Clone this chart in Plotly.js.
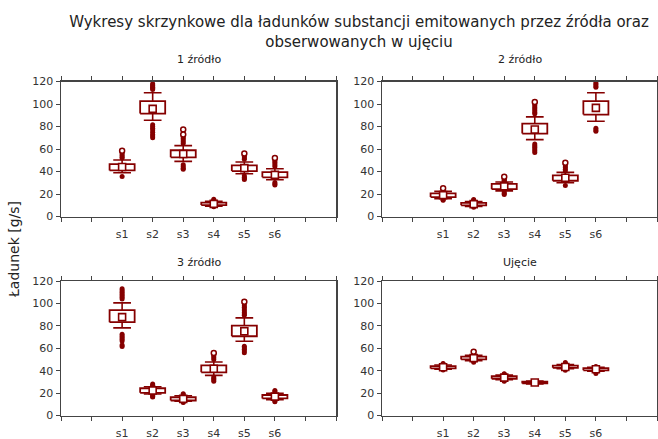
<!DOCTYPE html>
<html><head><meta charset="utf-8">
<script src="https://cdn.plot.ly/plotly-3.0.1.min.js"></script>
<style>html,body{margin:0;padding:0;background:#fff}</style>
</head><body><div id="chart" style="width:658px;height:439px"></div>
<script>
const categories = ['s1','s2','s3','s4','s5','s6'];
const panelTitles = ['1 źródło','2 źródło','3 źródło','Ujęcie'];

// Panel 1: 1 źródło
const p1Q1  = [41.0, 91.5, 52.6, 10.2, 40.4, 34.8];
const p1Med = [44.0, 95.7, 55.6, 11.2, 43.0, 37.0];
const p1Q3  = [46.6, 102.6, 58.9, 12.3, 45.5, 39.5];
const p1Lo  = [38.9, 85.6, 49.0, 9.2, 38.0, 32.7];
const p1Hi  = [50.2, 110.0, 63.0, 13.5, 48.4, 42.5];
const p1Out = [[57.3,56,54.5,53,52,35.5],[118,117,116,115,114,113,81.5,80,78.5,77,75,73,71.5,70],[71,69.5,68,66.5,65,46,44.5,43,42],[14.5,15.3,8.6],[54.5,53.3,52,51,36.2,35,33.8,32.8],[50.5,49,47.5,46,44.5,30.3,29,28]];
const p1Ext = [[58.5],[],[77.3,72.8],[],[56],[52]];

// Panel 2: 2 źródło
const p2Q1  = [17.3, 9.9, 24.3, 73.7, 31.8, 90.6];
const p2Med = [19.0, 11.0, 26.8, 77.3, 34.4, 96.6];
const p2Q3  = [20.6, 12.2, 29.0, 82.6, 36.6, 102.6];
const p2Lo  = [15.9, 9.0, 22.8, 68.3, 30.0, 84.7];
const p2Hi  = [22.3, 13.4, 30.6, 88.6, 39.2, 110.0];
const p2Out = [[24,23.5,15,14.5],[14.5,15.2,8.3],[34,33,32,31.3,21.7,20.5,19.5],[100,98.5,97,95.5,94,92.5,91.3,64.5,63,61.5,60,58.5,57],[46.5,45,43.5,42,40.5,27.5],[119,117.5,116,115,78.5,77,75.8]];
const p2Ext = [[25.2],[],[35.3],[101.7],[47.8],[]];

// Panel 3: 3 źródło
const p3Q1  = [83.3, 20.2, 13.4, 38.5, 70.7, 15.2];
const p3Med = [87.8, 22.3, 14.8, 41.7, 75.2, 16.8];
const p3Q3  = [94.0, 24.3, 16.3, 44.8, 80.2, 18.3];
const p3Lo  = [78.2, 19.2, 12.8, 35.8, 66.2, 14.0];
const p3Hi  = [100.5, 25.6, 17.6, 47.7, 87.1, 19.8];
const p3Out = [[113,111.5,110,108.5,107,105.5,104,72.5,71,69.5,68,66.5,63,61.5],[28,27,26.5,18,17,16.5],[19.5,18.5,12,11.5],[54.5,53,51.5,50,34.3,33,31.8,30.5],[99.6,98,96.5,95,93.5,92,90.5,89.5,61.8,60.5,59,57.5,56],[22.4,21.5,13,12.3]];
const p3Ext = [[],[],[],[55.8],[101.4],[]];

// Panel 4: Ujęcie
const p4Q1  = [42.0, 50.0, 32.8, 28.6, 42.5, 40.3];
const p4Med = [43.0, 51.2, 33.8, 29.4, 43.3, 41.2];
const p4Q3  = [44.0, 52.5, 35.0, 30.2, 44.5, 42.2];
const p4Lo  = [41.2, 48.8, 32.0, 28.1, 41.7, 39.5];
const p4Hi  = [45.0, 53.8, 36.0, 30.7, 45.5, 43.0];
const p4Out = [[46.5,46,40.5],[55.5,47.5],[37.3,36.8,31,30.5],[],[47.3,46.5,40.3],[43.7,38.5,37.5]];
const p4Ext = [[],[56.8],[],[],[],[]];

const panels = [
  {q1:p1Q1, med:p1Med, q3:p1Q3, lo:p1Lo, hi:p1Hi, out:p1Out, ext:p1Ext},
  {q1:p2Q1, med:p2Med, q3:p2Q3, lo:p2Lo, hi:p2Hi, out:p2Out, ext:p2Ext},
  {q1:p3Q1, med:p3Med, q3:p3Q3, lo:p3Lo, hi:p3Hi, out:p3Out, ext:p3Ext},
  {q1:p4Q1, med:p4Med, q3:p4Q3, lo:p4Lo, hi:p4Hi, out:p4Out, ext:p4Ext}
];

const RED = '#850000';
const BOXW = 0.41, CAPW = 0.29, OFFSET = 2;
const traces = [];
panels.forEach((p, k) => {
  const xa = k === 0 ? 'x' : 'x' + (k + 1);
  const ya = k === 0 ? 'y' : 'y' + (k + 1);
  const bx = [], by = [], wx = [], wy = [], ox = [], oy = [], ex = [], ey = [], mx = [];
  categories.forEach((c, i) => {
    const cx = i + OFFSET;
    bx.push(cx-BOXW, cx+BOXW, cx+BOXW, cx-BOXW, cx-BOXW, null);
    by.push(p.q1[i], p.q1[i], p.q3[i], p.q3[i], p.q1[i], null);
    wx.push(cx, cx, null, cx-CAPW, cx+CAPW, null, cx, cx, null, cx-CAPW, cx+CAPW, null);
    wy.push(p.q3[i], p.hi[i], null, p.hi[i], p.hi[i], null, p.q1[i], p.lo[i], null, p.lo[i], p.lo[i], null);
    p.out[i].forEach(v => { ox.push(cx); oy.push(v); });
    p.ext[i].forEach(v => { ex.push(cx); ey.push(v); });
    mx.push(cx);
  });
  const common = {xaxis: xa, yaxis: ya, showlegend: false, hoverinfo: 'skip'};
  traces.push(Object.assign({type:'scatter', mode:'lines', x:wx, y:wy, line:{color:RED, width:1.6}}, common));
  traces.push(Object.assign({type:'scatter', mode:'lines', x:bx, y:by, line:{color:RED, width:1.8}}, common));
  traces.push(Object.assign({type:'scatter', mode:'markers', x:ox, y:oy, marker:{color:RED, size:5, symbol:'circle'}}, common));
  traces.push(Object.assign({type:'scatter', mode:'markers', x:ex, y:ey, marker:{color:'#fff', size:5, symbol:'circle', line:{color:RED, width:1.5}}}, common));
  traces.push(Object.assign({type:'scatter', mode:'markers', x:mx, y:p.med, marker:{color:'#fff', size:7, symbol:'square', line:{color:RED, width:1.6}}}, common));
});

const W = 658, H = 439;
const xd = [[61/W, 336/W],[382/W, 657/W]];
const yd = [[(H-216.5)/H, (H-81.5)/H],[(H-415.5)/H, (H-281)/H]];
const tickvals = [0,1,2,3,4,5,6,7,8,9];
const ticktext = ['',''].concat(categories, ['','']);
const FONT = 'DejaVu Sans, Verdana, sans-serif';
function xaxis(col, row, anchor){
  return {domain: xd[col], anchor: anchor, range:[0,9], tickmode:'array', tickvals:tickvals, ticktext:ticktext,
    showgrid:false, zeroline:false, showline:true, linecolor:'#444', linewidth:1.5, mirror:'ticks',
    ticks:'outside', ticklen:4, tickwidth:1, tickcolor:'#444', ticklabelstandoff:3,
    tickfont:{family:FONT, size:11, color:'#333'}, fixedrange:true};
}
function yaxis(row, anchor){
  return {domain: yd[row], anchor: anchor, range:[0,120], tickvals:[0,20,40,60,80,100,120],
    showgrid:false, zeroline:false, showline:true, linecolor:'#444', linewidth:1.5, mirror:true,
    ticks:'outside', ticklen:4, tickwidth:1, tickcolor:'#444',
    tickfont:{family:FONT, size:11, color:'#333'}, fixedrange:true};
}
const layout = {
  width: W, height: H, margin:{l:0, r:0, t:0, b:0},
  paper_bgcolor:'#fff', plot_bgcolor:'#fff',
  font:{family:FONT, color:'#222'},
  title:{text:'Wykresy skrzynkowe dla ładunków substancji emitowanych przez źródła oraz<br>obserwowanych w ujęciu',
    x:359/W, xanchor:'center', xref:'container', y:1-27/H, yanchor:'middle', yref:'container',
    font:{family:FONT, size:15, color:'#222'}},
  xaxis: xaxis(0,0,'y'), yaxis: yaxis(0,'x'),
  xaxis2: xaxis(1,0,'y2'), yaxis2: yaxis(0,'x2'),
  xaxis3: xaxis(0,1,'y3'), yaxis3: yaxis(1,'x3'),
  xaxis4: xaxis(1,1,'y4'), yaxis4: yaxis(1,'x4'),
  annotations: [
    {text: panelTitles[0], x:(xd[0][0]+xd[0][1])/2, y:1-60/H},
    {text: panelTitles[1], x:(xd[1][0]+xd[1][1])/2, y:1-60/H},
    {text: panelTitles[2], x:(xd[0][0]+xd[0][1])/2, y:1-262/H},
    {text: panelTitles[3], x:(xd[1][0]+xd[1][1])/2, y:1-262/H}
  ].map(a => Object.assign({xref:'paper', yref:'paper', showarrow:false, xanchor:'center', yanchor:'middle',
      font:{family:FONT, size:11, color:'#222'}}, a)).concat([
    {text:'Ładunek [g/s]', xref:'paper', yref:'paper', x:14/W, y:1-250/H, textangle:-90, showarrow:false,
     xanchor:'center', yanchor:'middle', font:{family:FONT, size:14, color:'#222'}}
  ])
};
Plotly.newPlot('chart', traces, layout, {displayModeBar:false, staticPlot:true});
</script></body></html>
